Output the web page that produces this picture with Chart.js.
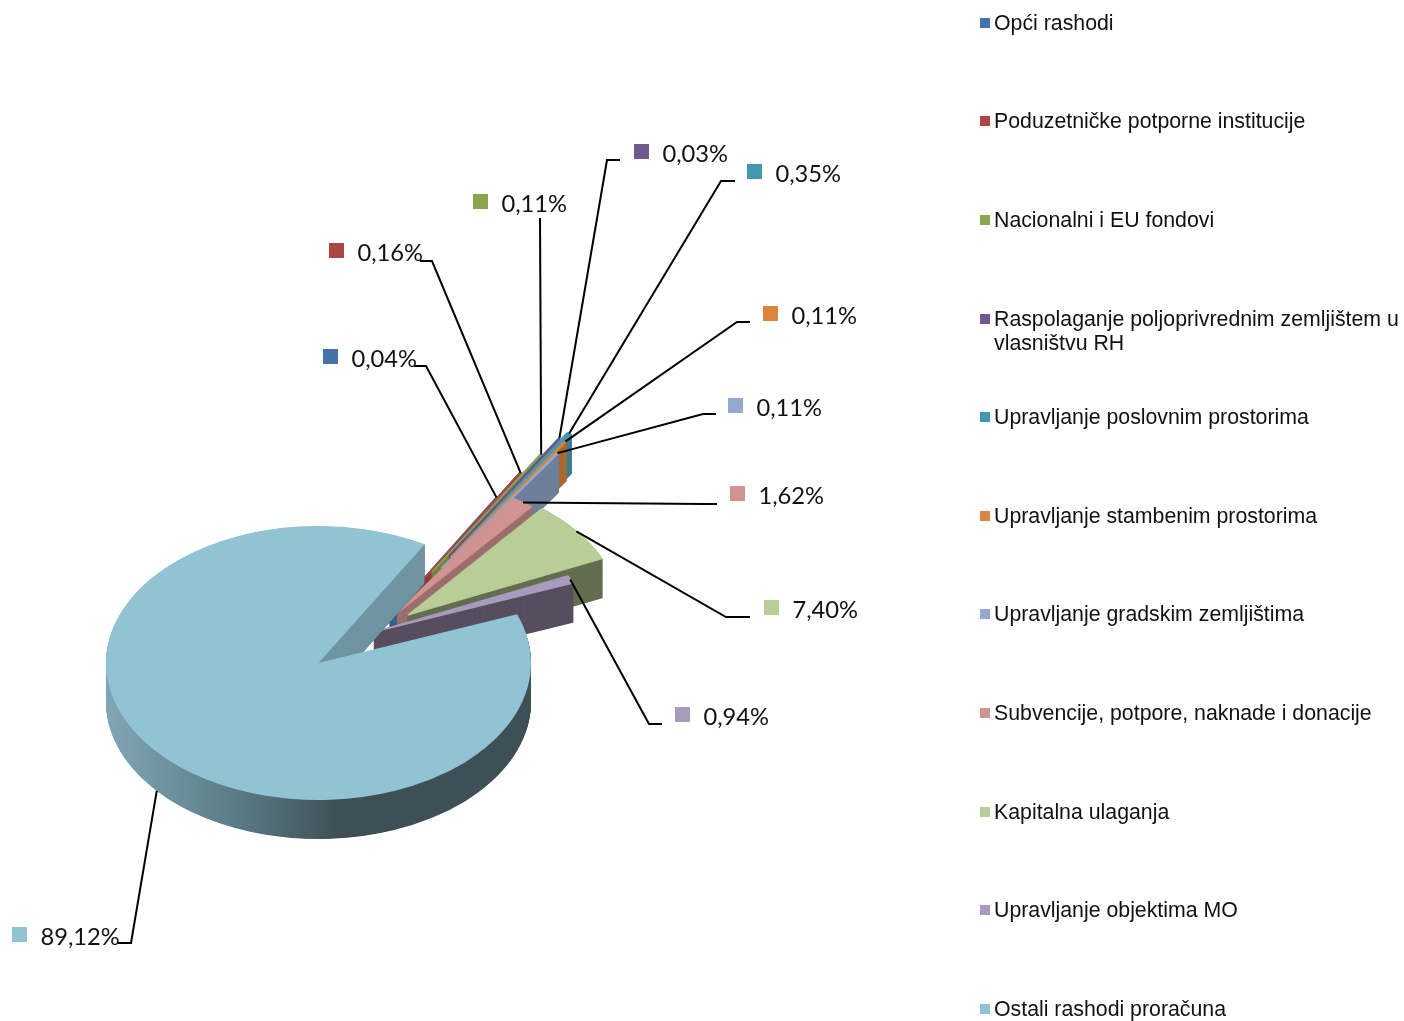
<!DOCTYPE html>
<html>
<head>
<meta charset="utf-8">
<script src="https://cdn.jsdelivr.net/npm/chart.js@4"></script>
<style>
    html, body { margin: 0; padding: 0; background: #fff; }
    canvas { display: block; }
</style>
</head>
<body>
<canvas id="rashodi" width="1404" height="1021"></canvas>
<script>
const categories = [
    "Opći rashodi",
    "Poduzetničke potporne institucije",
    "Nacionalni i EU fondovi",
    ["Raspolaganje poljoprivrednim zemljištem u", "vlasništvu RH"],
    "Upravljanje poslovnim prostorima",
    "Upravljanje stambenim prostorima",
    "Upravljanje gradskim zemljištima",
    "Subvencije, potpore, naknade i donacije",
    "Kapitalna ulaganja",
    "Upravljanje objektima MO",
    "Ostali rashodi proračuna"
]
const shares = [0.04, 0.16, 0.11, 0.03, 0.35, 0.11, 0.11, 1.62, 7.40, 0.94, 89.12]

const topColors = ["#4572a7", "#aa4643", "#89a54e", "#71588f", "#4198af", "#db843d", "#93a9cf", "#d19392", "#b9cd96", "#a99bbd", "#91c3d5"]
const sideColors = ["#365f8c", "#8a3a38", "#6f8640", "#5a4672", "#3a7d8e", "#a96a30", "#6e7f9b", "#9c6e6d", "#636f50", "#584e5f", "#3e4f55"]

// exploded slices: how far each one is pulled from the pie centre, in pixels on screen
const explodeX = [71.5, 94.5, 113.5, 131, 138.5, 132, 123, 79, 89.5, 55.5, 0]
const explodeY = [-47, -72, -91, -108, -113, -106, -95, -50, -48, -31, 0]

// label square position and the elbow of its leader line
const labelX = [323, 329, 473, 634, 747, 763, 728, 730, 764, 675, 12]
const labelY = [356.5, 250.5, 201.5, 151.5, 171.5, 313.5, 405.5, 493.5, 607.5, 714.5, 934.5]
const elbowX = [426, 432, 540, 607, 721, 737, 703, 705, 726, 649, 131]
const elbowY = [366, 261, 218, 160, 181, 322, 414, 504, 617, 724, 943]
const elbowEndX = [414, 420, 540, 620, 735, 750, 716, 717, 750, 662, 118]

const legendY = [23, 121, 220, 319, 417, 516, 614, 713, 812, 910, 1009]

const pieCenterX = 318.5
const pieCenterY = 663
const squash = 0.645
const depth = 39

const formatShare = (v) => v.toFixed(2).replace(".", ",") + "%"

// puts the flat Chart.js pie on its side
const tilt = (ctx, cx, cy, dx, dy) => {
    ctx.translate(cx + dx, cy + dy)
    ctx.scale(1, squash)
    ctx.translate(-cx, -cy)
}

// slivers get a hairline in their own colour, otherwise they fade out near the tip
const drawArc = (arc, ctx, color, hairline) => {
    const copy = Object.create(arc)
    copy.options = Object.assign({}, arc.options, {
        backgroundColor: color,
        borderColor: color,
        borderWidth: hairline
    })
    copy.draw(ctx)
}

const pie3d = {
    id: "pie3d",
    beforeDatasetsDraw(chart) {
        const ctx = chart.ctx
        const arcs = chart.getDatasetMeta(0).data
        const last = arcs.length - 1

        const rim = ctx.createLinearGradient(106, 0, 340, 0)
        rim.addColorStop(0, "#80a6b5")
        rim.addColorStop(0.5, "#5e808c")
        rim.addColorStop(1, "#3e4f55")

        arcs.forEach((arc, i) => {
            const side = i === last ? rim : sideColors[i]
            const hairline = i === last ? 0 : 1.8
            // half pixel steps so the thin tips stack up solid
            for (let d = depth; d > 0; d -= 0.5) {
                ctx.save()
                tilt(ctx, arc.x, arc.y, explodeX[i], explodeY[i] + d)
                drawArc(arc, ctx, side, hairline)
                ctx.restore()
            }
            if (i === last) {
                // the cut face behind the gap is lit, unlike the outer rim
                ctx.save()
                ctx.beginPath()
                ctx.rect(300, 500, 140, 163)
                ctx.clip()
                for (let d = depth; d > 0; d--) {
                    ctx.save()
                    tilt(ctx, arc.x, arc.y, 0, d)
                    drawArc(arc, ctx, "#6f95a2", 0)
                    ctx.restore()
                }
                ctx.restore()
            }
            ctx.save()
            tilt(ctx, arc.x, arc.y, explodeX[i], explodeY[i])
            drawArc(arc, ctx, topColors[i], hairline)
            ctx.restore()
        })
        return false
    },
    afterDraw(chart) {
        const ctx = chart.ctx
        const arcs = chart.getDatasetMeta(0).data

        arcs.forEach((arc, i) => {
            // leader starts on the rim, halfway along the slice
            const mid = (arc.startAngle + arc.endAngle) / 2
            const startX = arc.x + explodeX[i] + Math.cos(mid) * arc.outerRadius
            let startY = arc.y + explodeY[i] + Math.sin(mid) * arc.outerRadius * squash
            if (Math.sin(mid) > 0.5) startY += depth

            ctx.strokeStyle = "#000"
            ctx.lineWidth = 2
            ctx.beginPath()
            ctx.moveTo(startX, startY)
            ctx.lineTo(elbowX[i], elbowY[i])
            ctx.lineTo(elbowEndX[i], elbowY[i])
            ctx.stroke()

            ctx.fillStyle = topColors[i]
            ctx.fillRect(labelX[i], labelY[i] - 7.5, 15, 15)
            ctx.fillStyle = "#111"
            ctx.font = "23.7px Lato"
            ctx.textAlign = "left"
            ctx.textBaseline = "middle"
            ctx.fillText(formatShare(shares[i]), labelX[i] + 28.4, labelY[i] + 2.5)
        })

        categories.forEach((name, i) => {
            ctx.fillStyle = topColors[i]
            ctx.fillRect(980, legendY[i] - 5, 10, 10)
            ctx.fillStyle = "#111"
            ctx.font = "21.3px 'Liberation Sans'"
            ctx.textAlign = "left"
            ctx.textBaseline = "middle"
            const lines = Array.isArray(name) ? name : [name]
            lines.forEach((line, n) => ctx.fillText(line, 994, legendY[i] + 1 + n * 24))
        })
    }
}

new Chart(document.getElementById("rashodi").getContext("2d"), {
    type: "pie",
    data: {
        labels: categories.map((c) => Array.isArray(c) ? c.join(" ") : c),
        datasets: [{
            data: shares,
            backgroundColor: topColors,
            borderWidth: 0
        }]
    },
    options: {
        responsive: false,
        animation: false,
        rotation: 30,
        radius: 212.5,
        layout: {
            padding: {
                left: 0,
                right: 1404 - 2 * pieCenterX,
                top: 2 * pieCenterY - 1021,
                bottom: 0
            }
        },
        plugins: {
            legend: { display: false },
            tooltip: { enabled: false }
        }
    },
    plugins: [pie3d]
})
</script>
</body>
</html>
